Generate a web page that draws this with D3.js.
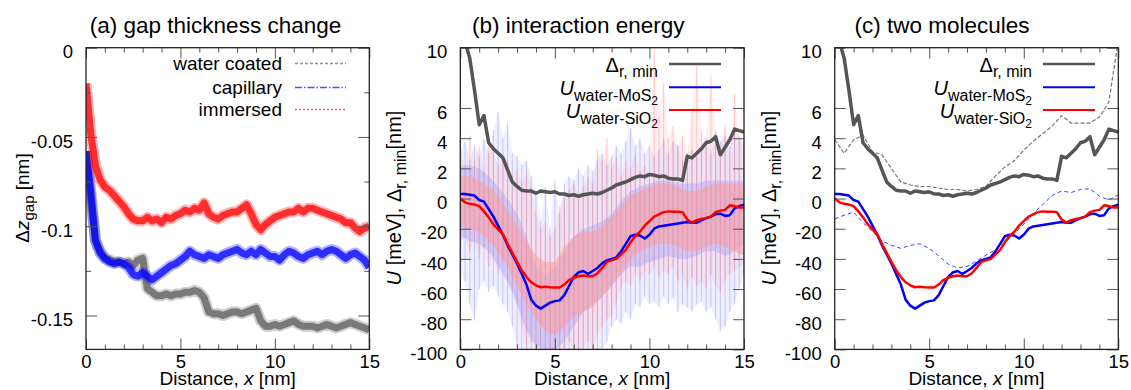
<!DOCTYPE html>
<html>
<head>
<meta charset="utf-8">
<script src="https://cdn.jsdelivr.net/npm/d3@7"></script>
<style>
  body { margin: 0; background: #fff; }
  svg { display: block; font-family: "Liberation Sans", Arial, Helvetica, sans-serif; }
</style>
</head>
<body>
<script>
// distance grids (nm)
const xQuarter = [0,0.25,0.5,0.75,1,1.25,1.5,1.75,2,2.25,2.5,2.75,3,3.25,3.5,3.75,4,4.25,4.5,4.75,5,5.25,5.5,5.75,6,6.25,6.5,6.75,7,7.25,7.5,7.75,8,8.25,8.5,8.75,9,9.25,9.5,9.75,10,10.25,10.5,10.75,11,11.25,11.5,11.75,12,12.25,12.5,12.75,13,13.25,13.5,13.75,14,14.25,14.5,14.75,15];
const xHalf = [0,0.5,1,1.5,2,2.5,3,3.5,4,4.5,5,5.5,6,6.5,7,7.5,8,8.5,9,9.5,10,10.5,11,11.5,12,12.5,13,13.5,14,14.5,15];

// (a) gap thickness change, nm
const gapWaterCoated = [-0.058,-0.085,-0.108,-0.114,-0.118,-0.119,-0.120,-0.120,-0.121,-0.120,
  -0.122,-0.119,-0.118,-0.135,-0.137,-0.139,-0.139,-0.138,-0.139,-0.138,
  -0.138,-0.137,-0.137,-0.136,-0.137,-0.140,-0.148,-0.149,-0.149,-0.150,
  -0.149,-0.148,-0.148,-0.149,-0.148,-0.147,-0.146,-0.153,-0.156,-0.156,
  -0.155,-0.156,-0.155,-0.154,-0.153,-0.155,-0.156,-0.156,-0.156,-0.157,
  -0.156,-0.155,-0.156,-0.157,-0.156,-0.155,-0.154,-0.155,-0.156,-0.157,-0.158];
const gapCapillary = [-0.058,-0.080,-0.108,-0.115,-0.118,-0.120,-0.121,-0.120,-0.121,-0.123,
  -0.127,-0.128,-0.126,-0.128,-0.130,-0.128,-0.126,-0.124,-0.122,-0.121,
  -0.119,-0.117,-0.114,-0.116,-0.117,-0.118,-0.116,-0.117,-0.118,-0.116,
  -0.115,-0.114,-0.113,-0.115,-0.116,-0.114,-0.116,-0.113,-0.115,-0.117,
  -0.117,-0.119,-0.116,-0.114,-0.115,-0.117,-0.118,-0.116,-0.115,-0.114,
  -0.116,-0.114,-0.113,-0.114,-0.116,-0.118,-0.116,-0.115,-0.117,-0.119,-0.123];
const gapImmersed = [-0.020,-0.048,-0.066,-0.074,-0.078,-0.080,-0.083,-0.086,-0.089,-0.093,
  -0.096,-0.097,-0.097,-0.095,-0.097,-0.096,-0.098,-0.095,-0.096,-0.094,
  -0.093,-0.091,-0.092,-0.090,-0.091,-0.087,-0.093,-0.095,-0.096,-0.094,
  -0.093,-0.092,-0.092,-0.090,-0.088,-0.093,-0.099,-0.102,-0.099,-0.097,
  -0.095,-0.094,-0.093,-0.092,-0.092,-0.090,-0.092,-0.090,-0.090,-0.091,
  -0.092,-0.093,-0.094,-0.095,-0.096,-0.098,-0.098,-0.101,-0.103,-0.101,-0.100];

// (b),(c) minimum separation, nm
const deltaRMin = [10.6,10.4,9.3,7.2,4.9,5.5,3.7,3.3,3.0,2.7,
  1.9,1.1,0.8,0.55,0.5,0.5,0.35,0.5,0.45,0.4,
  0.45,0.3,0.3,0.2,0.25,0.15,0.25,0.3,0.35,0.3,
  0.4,0.55,0.7,0.9,1.0,1.1,1.25,1.4,1.5,1.45,
  1.6,1.55,1.45,1.5,1.35,1.3,1.3,1.2,2.8,2.7,
  3.0,3.3,3.7,3.8,4.1,2.9,3.4,3.9,4.6,4.5,4.4];
// (b),(c) interaction energies, meV (running average)
const uWaterMoS2 = [3,3,2.5,2,-1,-2,-7,-12,-18,-24,
  -31,-37,-43,-50,-57,-67,-71,-73,-71,-69,
  -68,-67.5,-64,-58,-52,-49,-48,-50,-48,-46,
  -43,-41,-40,-39,-35,-30,-25,-24,-24.5,-26.5,
  -24,-20,-18.5,-18,-17.5,-17,-16.5,-16,-15.5,-16,
  -16,-14.5,-13,-12,-10.5,-10,-11.5,-11,-6.5,-5,-4];
const uWaterSiO2 = [0,-2.5,-3.5,-4,-5,-8.5,-12.5,-17,-20.5,-23.5,
  -30,-36,-42,-47.5,-52,-55.5,-57.5,-58.8,-58.5,-58.8,
  -59,-59,-57,-54,-52.5,-51.5,-51,-51.5,-51.5,-49.5,
  -46,-42,-41,-40,-37,-34,-29,-25,-22,-18,
  -15,-12,-10.5,-9,-8.5,-8.8,-8.8,-9,-14,-16,
  -14.3,-13.5,-13,-12,-9,-8,-7.5,-4.5,-5,-6,-6];

// (b) raw fluctuation envelopes, meV
const siO2CoreLo = [-18,-20,-22,-28,-35,-45,-58,-70,-80,-88,-90,-85,-78,-75,-72,-65,-58,-50,-40,-35,-32,-30,-30,-32,-35,-35,-32,-30,-32,-35,-38];
const siO2CoreHi = [15,15,12,8,2,-8,-18,-28,-38,-42,-42,-32,-25,-22,-22,-18,-12,-5,2,5,8,10,10,8,5,5,8,10,10,10,10];
const moS2CoreLo = [-25,-28,-30,-35,-45,-55,-70,-88,-98,-100,-100,-95,-85,-75,-70,-65,-58,-50,-45,-45,-42,-40,-38,-40,-40,-38,-35,-35,-38,-35,-30];
const moS2CoreHi = [22,22,20,15,8,0,-10,-25,-45,-50,-46,-35,-25,-20,-18,-15,-10,-2,5,8,10,12,12,10,10,10,12,12,12,12,12];
const siO2SpikeHi = [38,20,42,25,35,18,40,30,22,28, 26,15,20,10,18,8,-10,-20,-15,-25, -20,-5,0,6,10,2,8,15,10,32,
  25,40,20,28,15,25,20,30,18,22, 16,99,54,77,40,48,35,42,30,59, 90,45,38,81,40,35,50,30,70,42, 35];
const siO2SpikeLo = [-30,-25,-35,-28,-40,-32,-45,-38,-50,-42, -55,-60,-70,-85,-100,-95,-100,-100,-100,-100,
  -100,-100,-100,-95,-100,-100,-100,-95,-100,-90, -85,-80,-78,-70,-60,-55,-58,-50,-55,-48,
  -50,-45,-52,-48,-50,-45,-55,-50,-60,-52, -58,-55,-60,-50,-58,-62,-55,-50,-48,-45, -45];
const moS2SpikeHi = [30,38,25,35,28,40,30,45,57,40, 50,30,28,22,25,15,5,-15,8,-20, 12,-10,10,15,12,20,15,22,18,25,
  30,22,28,35,30,38,47,35,40,30, 35,28,32,40,30,38,35,25,30,32, 28,35,40,30,45,38,42,35,45,40, 38];
const moS2SpikeLo = [-50,-55,-70,-81,-60,-55,-62,-58,-65,-70, -75,-85,-100,-100,-100,-100,-100,-100,-100,-100,
  -100,-100,-100,-100,-100,-100,-100,-100,-100,-100, -100,-95,-85,-80,-83,-75,-80,-70,-72,-65,
  -70,-68,-72,-65,-70,-66,-75,-70,-72,-75, -70,-68,-75,-72,-80,-88,-85,-75,-70,-60, -50];

// (c) second molecule
const deltaRMin2 = [3.9,3.0,3.9,4.2,3.1,2.9,2.0,1.1,0.9,0.8,0.8,0.7,0.6,0.6,0.5,0.6,0.8,1.5,2.1,2.5,3.2,3.8,4.3,4.8,5.5,5.0,5.0,5.0,5.4,6.4,10.5];
const uWaterMoS2Second = [-13.5,-11,-9,-16,-22,-28,-31,-33,-31,-30,-33,-38,-43.5,-46,-45,-41.5,-37.5,-34,-29,-23,-17,-10,-4,2,5,4,6,6.5,1.5,-1,2.5];

// ticks
const xMajor = [0, 5, 10, 15];
const xMinor = [1, 2, 3, 4, 6, 7, 8, 9, 11, 12, 13, 14];
const gapMajor = [0, -0.05, -0.1, -0.15];
const gapMinor = [-0.025, -0.075, -0.125];
const energyMajor = [-100, -80, -60, -40, -20, 0, 20, 40, 60, 100];

const w = 1131;
const h = 390;
const plotTop = 47.7;
const plotBottom = 349.4;

const svg = d3.select("body").append("svg").attr("width", w).attr("height", h);

function axes(g, x, y, yMajor, yMinor, yFormat) {
  const ax = g.append("g").attr("class", "axes");
  const tickStyle = (sel) => {
    sel.select(".domain").remove();
    sel.selectAll(".tick line").attr("stroke", "#555");
  };
  ax.append("g").attr("transform", `translate(0,${plotBottom})`)
    .call(d3.axisBottom(x).tickValues(xMajor).tickSizeInner(-11).tickSizeOuter(0).tickPadding(5).tickFormat(d3.format("d")))
    .call(tickStyle)
    .selectAll("text").attr("font-size", 18.5).attr("fill", "#000");
  ax.append("g").attr("transform", `translate(0,${plotBottom})`)
    .call(d3.axisBottom(x).tickValues(xMinor).tickSize(-5).tickFormat(""))
    .call(tickStyle);
  ax.append("g").attr("transform", `translate(0,${plotTop})`)
    .call(d3.axisTop(x).tickValues(xMajor).tickSize(-11).tickFormat(""))
    .call(tickStyle);
  ax.append("g").attr("transform", `translate(0,${plotTop})`)
    .call(d3.axisTop(x).tickValues(xMinor).tickSize(-5).tickFormat(""))
    .call(tickStyle);
  const x0 = x.range()[0];
  const x1 = x.range()[1];
  ax.append("g").attr("transform", `translate(${x0},0)`)
    .call(d3.axisLeft(y).tickValues(yMajor).tickSizeInner(-11).tickSizeOuter(0).tickPadding(13).tickFormat(yFormat))
    .call(tickStyle)
    .selectAll("text").attr("font-size", 18.5).attr("fill", "#000").attr("dy", "0.55em");
  ax.append("g").attr("transform", `translate(${x1},0)`)
    .call(d3.axisRight(y).tickValues(yMajor).tickSize(-11).tickFormat(""))
    .call(tickStyle);
  if (yMinor) {
    ax.append("g").attr("transform", `translate(${x0},0)`)
      .call(d3.axisLeft(y).tickValues(yMinor).tickSize(-5).tickFormat(""))
      .call(tickStyle);
    ax.append("g").attr("transform", `translate(${x1},0)`)
      .call(d3.axisRight(y).tickValues(yMinor).tickSize(-5).tickFormat(""))
      .call(tickStyle);
  }
  ax.append("rect")
    .attr("x", x0).attr("y", plotTop)
    .attr("width", x1 - x0).attr("height", plotBottom - plotTop)
    .attr("fill", "none").attr("stroke", "#222").attr("stroke-width", 1.3);

  const xt = g.append("text")
    .attr("x", (x0 + x1) / 2).attr("y", 384.5)
    .attr("text-anchor", "middle").attr("font-size", 19);
  xt.append("tspan").text("Distance, ");
  xt.append("tspan").attr("font-style", "italic").text("x");
  xt.append("tspan").text(" [nm]");
}

function clip(id, x) {
  svg.append("clipPath").attr("id", id)
    .append("rect")
    .attr("x", x.range()[0]).attr("y", plotTop)
    .attr("width", x.range()[1] - x.range()[0]).attr("height", plotBottom - plotTop);
  return `url(#${id})`;
}

function title(cx, txt) {
  svg.append("text").attr("x", cx).attr("y", 33)
    .attr("text-anchor", "middle").attr("font-size", 22.5).text(txt);
}

// ---------- (a) ----------
const xa = d3.scaleLinear().domain([0, 15]).range([86, 369.3]);
const ya = d3.scaleLinear().domain([-0.169, 0]).range([plotBottom, plotTop]);
const ga = svg.append("g");
const lineA = d3.line().x((d) => xa(d[0])).y((d) => ya(d[1]));
const plotA = ga.append("g").attr("clip-path", clip("clipA", xa));

const gapSeries = [
  { name: "water coated", values: gapWaterCoated, color: "#5c5c5c", key: "#909090", dash: "3,2" },
  { name: "capillary", values: gapCapillary, color: "#0000ff", key: "#5050ff", dash: "7,2,1.5,2" },
  { name: "immersed", values: gapImmersed, color: "#ff0000", key: "#ff5050", dash: "2,2" }
];
gapSeries.forEach((s) => {
  const pts = d3.zip(xQuarter, s.values);
  plotA.append("path").attr("d", lineA(pts))
    .attr("fill", "none").attr("stroke", s.color).attr("stroke-width", 11)
    .attr("stroke-linejoin", "round").attr("stroke-opacity", 0.3);
  plotA.append("path").attr("d", lineA(pts))
    .attr("fill", "none").attr("stroke", s.color).attr("stroke-width", 7)
    .attr("stroke-linejoin", "round").attr("stroke-opacity", 0.75);
});
axes(ga, xa, ya, gapMajor, gapMinor, (d) => (d === 0 ? "0" : String(d)));

const legendA = ga.append("g");
gapSeries.forEach((s, i) => {
  const ly = [63.5, 87.5, 109.5][i];
  legendA.append("text").attr("x", 282).attr("y", ly).attr("dy", "0.35em")
    .attr("text-anchor", "end").attr("font-size", 19).text(s.name);
  legendA.append("path").attr("d", `M295,${ly}H346`)
    .attr("fill", "none").attr("stroke", s.key).attr("stroke-opacity", 1)
    .attr("stroke-width", 1.6).attr("stroke-dasharray", s.dash);
});

const yla = ga.append("text").attr("transform", "translate(29,198) rotate(-90)")
  .attr("text-anchor", "middle").attr("font-size", 19);
yla.append("tspan").text("Δ");
yla.append("tspan").attr("font-style", "italic").text("z");
yla.append("tspan").attr("font-size", 15).attr("dy", 5).text("gap");
yla.append("tspan").attr("dy", -5).text(" [nm]");
title(215.5, "(a) gap thickness change");

// ---------- (b) and (c) ----------
function energyPanel(left, right, id, withNoise, withSecond, legendEnd) {
  const x = d3.scaleLinear().domain([0, 15]).range([left, right]);
  const y = d3.scaleLinear().domain([-100, 100]).range([plotBottom, plotTop]);
  const yNm = d3.scaleLinear().domain([-10, 10]).range([plotBottom, plotTop]);
  const g = svg.append("g");
  const plot = g.append("g").attr("clip-path", clip(id, x));

  if (withNoise) {
    const band = (xs, lo, hi) => d3.area().x((d, i) => x(xs[i])).y0((d, i) => y(lo[i])).y1((d, i) => y(hi[i]))(xs);
    plot.append("path").attr("d", band(xQuarter, moS2SpikeLo, moS2SpikeHi)).attr("fill", "#8c8cff").attr("fill-opacity", 0.14);
    plot.append("path").attr("d", band(xQuarter, siO2SpikeLo, siO2SpikeHi)).attr("fill", "#ff8c8c").attr("fill-opacity", 0.14);
    const spikes = (lo, hi, color) => plot.append("g")
      .selectAll("line").data(xQuarter).join("line")
      .attr("x1", (d) => x(d)).attr("x2", (d) => x(d))
      .attr("y1", (d, i) => y(lo[i])).attr("y2", (d, i) => y(hi[i]))
      .attr("stroke", color).attr("stroke-width", 1.1).attr("stroke-opacity", 0.35);
    spikes(moS2SpikeLo, moS2SpikeHi, "#8080ff");
    plot.append("path").attr("d", band(xHalf, moS2CoreLo, moS2CoreHi)).attr("fill", "#a0a0ff").attr("fill-opacity", 0.4);
    plot.append("path").attr("d", band(xHalf, siO2CoreLo, siO2CoreHi)).attr("fill", "#ff9c9c").attr("fill-opacity", 0.55);
    spikes(siO2SpikeLo, siO2SpikeHi, "#ff8080");
  }

  const lineU = d3.line().x((d) => x(d[0])).y((d) => y(d[1]));
  const lineR = d3.line().x((d) => x(d[0])).y((d) => yNm(d[1]));

  if (withSecond) {
    plot.append("path").attr("d", lineR(d3.zip(xHalf, deltaRMin2)))
      .attr("fill", "none").attr("stroke", "#777").attr("stroke-width", 1.2).attr("stroke-dasharray", "4,2");
    plot.append("path").attr("d", lineU(d3.zip(xHalf, uWaterMoS2Second)))
      .attr("fill", "none").attr("stroke", "#3344ff").attr("stroke-width", 1).attr("stroke-dasharray", "4,3");
  }
  plot.append("path").attr("d", lineR(d3.zip(xQuarter, deltaRMin)))
    .attr("fill", "none").attr("stroke", "#555").attr("stroke-width", 3.5).attr("stroke-linejoin", "round");
  plot.append("path").attr("d", lineU(d3.zip(xQuarter, uWaterMoS2)))
    .attr("fill", "none").attr("stroke", "#0000ff").attr("stroke-width", 2.5).attr("stroke-linejoin", "round");
  plot.append("path").attr("d", lineU(d3.zip(xQuarter, uWaterSiO2)))
    .attr("fill", "none").attr("stroke", "#ff0000").attr("stroke-width", 2.5).attr("stroke-linejoin", "round");

  axes(g, x, y, energyMajor, null, (d) => (d > 0 ? String(d / 10) : String(d)));

  // legend
  const rows = [64, 87.3, 110];
  const t0 = g.append("text").attr("x", legendEnd).attr("y", rows[0] + 7.5).attr("text-anchor", "end").attr("font-size", 20);
  t0.append("tspan").text("Δ");
  t0.append("tspan").attr("font-size", 16).attr("dy", 5).text("r, min");
  [["MoS", "#0000ff"], ["SiO", "#ff0000"]].forEach((m, i) => {
    const t = g.append("text").attr("x", legendEnd).attr("y", rows[i + 1] + 7.5).attr("text-anchor", "end").attr("font-size", 20);
    t.append("tspan").attr("font-style", "italic").text("U");
    t.append("tspan").attr("font-size", 16).attr("dy", 6).text("water-" + m[0]);
    t.append("tspan").attr("font-size", 12).attr("dy", 4).text("2");
  });
  const legendColors = ["#555", "#0000ff", "#ff0000"];
  rows.forEach((ry, i) => {
    g.append("line").attr("x1", legendEnd + 11).attr("x2", legendEnd + 63).attr("y1", ry).attr("y2", ry)
      .attr("stroke", legendColors[i]).attr("stroke-width", i === 0 ? 2.5 : 2);
  });

  // y label
  const yl = g.append("text").attr("transform", `translate(${left - 59},198) rotate(-90)`)
    .attr("text-anchor", "middle").attr("font-size", 20);
  yl.append("tspan").attr("font-style", "italic").text("U");
  yl.append("tspan").text(" [meV], Δ");
  yl.append("tspan").attr("font-size", 16).attr("dy", 5).text("r, min");
  yl.append("tspan").attr("dy", -5).text("[nm]");
}

energyPanel(460.3, 744, "clipB", true, false, 658);
title(578.3, "(b) interaction energy");
energyPanel(834.7, 1118.3, "clipC", false, true, 1032);
title(942, "(c) two molecules");
</script>
</body>
</html>
